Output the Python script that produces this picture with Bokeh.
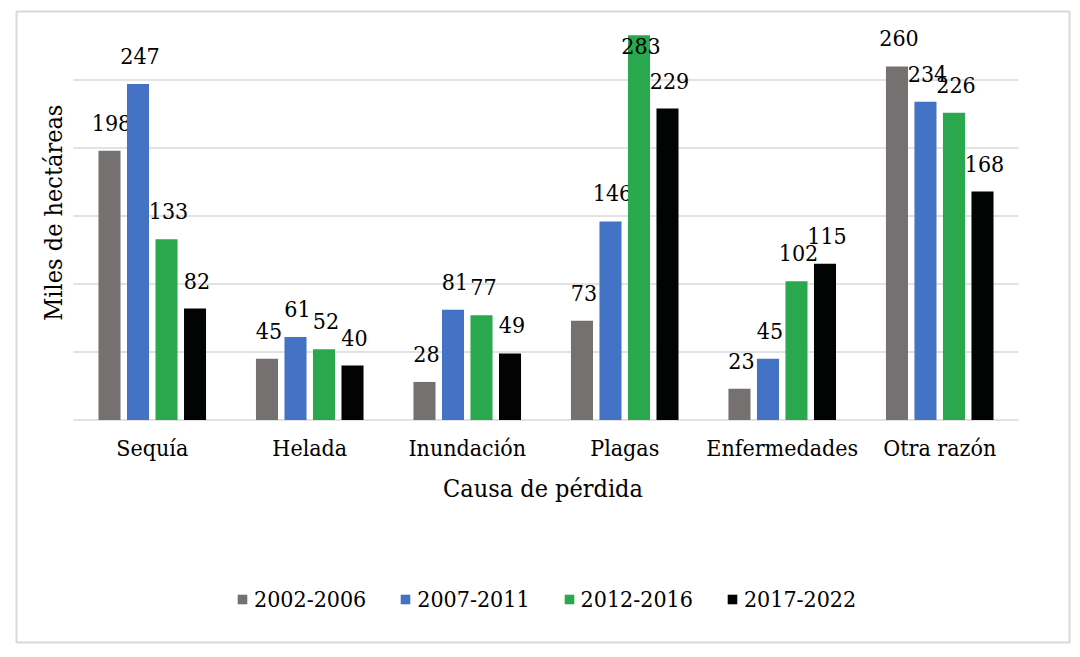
from bokeh.plotting import figure
from bokeh.models import Range1d, LinearAxis, FixedTicker, Legend, LegendItem, Label, ColumnDataSource
from bokeh.core.properties import value
from bokeh.embed import file_html
from bokeh.resources import INLINE

categories = ["Sequía", "Helada", "Inundación", "Plagas", "Enfermedades", "Otra razón"]
series = ["2002-2006", "2007-2011", "2012-2016", "2017-2022"]
v_2002_2006 = [198, 45, 28, 73, 23, 260]
v_2007_2011 = [247, 61, 81, 146, 45, 234]
v_2012_2016 = [133, 52, 77, 283, 102, 226]
v_2017_2022 = [82, 40, 49, 229, 115, 168]
grid_ticks = [0, 50, 100, 150, 200, 250]
axis_max = 300

colors = ["#767171", "#4472C4", "#2AA84E", "#020303"]
values = [v_2002_2006, v_2007_2011, v_2012_2016, v_2017_2022]

FONT = "DejaVu Serif Condensed"

Y0, Y1 = -163.6, 300.4
FRAME_H = 631
PX = FRAME_H / (Y1 - Y0)  # pixels per data unit

p = figure(width=1072, height=648,
           x_range=Range1d(-0.362, 6.324), y_range=Range1d(Y0, Y1),
           min_border_left=16, min_border_right=3, min_border_top=11, min_border_bottom=6,
           output_backend="svg", toolbar_location=None,
           x_axis_location=None, y_axis_location=None)
p.xgrid.grid_line_color = None
p.ygrid.grid_line_color = None
p.outline_line_color = "#d9d9d9"
p.outline_line_width = 2
p.background_fill_color = "white"
p.border_fill_color = "white"

p.segment(x0=[0] * len(grid_ticks), x1=[len(categories)] * len(grid_ticks),
          y0=grid_ticks, y1=grid_ticks, line_color="#d9d9d9", line_width=1.6)

step = 0.181
width = 0.14
offsets = [-1.5, -0.5, 0.5, 1.5]
out_off = 28 / PX
half_h = 12 / PX
in_off = 11 / PX
items = []
for s, vals, col, off in zip(series, values, colors, offsets):
    xs = [i + 0.5 + off * step for i in range(len(categories))]
    ly = []
    for v in vals:
        if v + out_off + half_h > axis_max:
            ly.append(v - in_off)      # label inside end when it would overflow
        else:
            ly.append(v + out_off)
    src = ColumnDataSource(dict(x=xs, top=vals, ly=ly, label=[str(v) for v in vals]))
    r = p.vbar(x="x", top="top", bottom=0, width=width, source=src,
               fill_color=col, line_color=None)
    p.text(x="x", y="ly", text="label", source=src, text_align="center",
           text_baseline="middle", x_offset=2,
           text_font=value(FONT), text_font_size="23px", text_color="black")
    items.append(LegendItem(label=s, renderers=[r]))

xaxis = LinearAxis(fixed_location=0,
                   ticker=FixedTicker(ticks=[i + 0.5 for i in range(len(categories))]),
                   major_label_overrides={i + 0.5: c for i, c in enumerate(categories)})
xaxis.axis_line_color = None
xaxis.major_tick_line_color = None
xaxis.minor_tick_line_color = None
xaxis.major_label_standoff = 9
xaxis.major_label_text_font = FONT
xaxis.major_label_text_font_size = "23px"
xaxis.major_label_text_color = "black"
xaxis.axis_label = "Causa de pérdida"
xaxis.axis_label_text_font = FONT
xaxis.axis_label_text_font_size = "25px"
xaxis.axis_label_text_font_style = "normal"
xaxis.axis_label_text_color = "black"
xaxis.axis_label_standoff = 9
p.add_layout(xaxis, "below")

ylab = Label(x=-0.13, y=152.5, text="Miles de hectáreas", angle=1.5707963,
             text_align="center", text_baseline="middle",
             text_font=FONT, text_font_size="25px", text_color="black")
p.add_layout(ylab)

legend = Legend(items=items, orientation="horizontal", location=(220, 30),
                border_line_color=None, background_fill_alpha=0,
                padding=0, margin=0, spacing=33, glyph_width=12, glyph_height=12,
                label_standoff=6, label_text_font=FONT, label_text_font_size="23px",
                label_text_color="black")
p.add_layout(legend)

open("out.html", "w").write(file_html(p, INLINE))
